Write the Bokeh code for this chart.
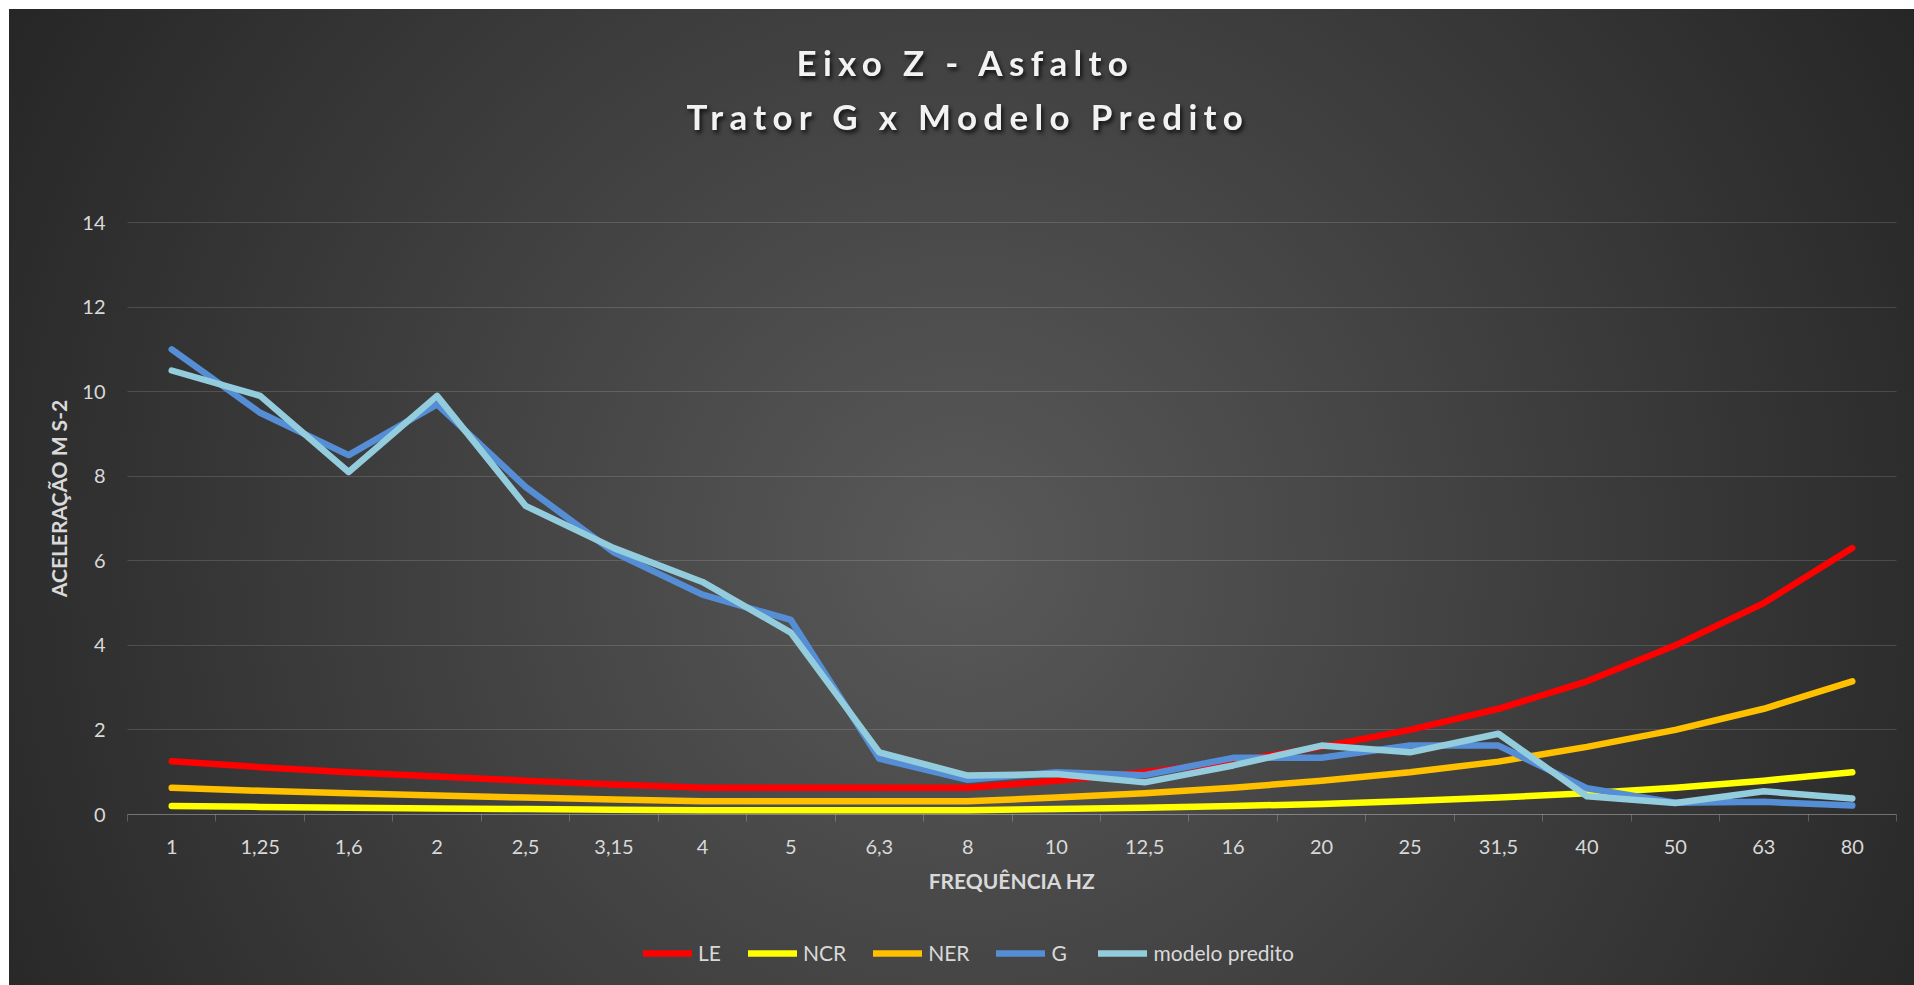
import math

from bokeh.core.validation import silence
from bokeh.core.validation.warnings import MISSING_RENDERERS
from bokeh.embed import file_html
from bokeh.layouts import column
from bokeh.models import FixedTicker, Label, Legend, LegendItem, Range1d
from bokeh.plotting import figure
from bokeh.resources import INLINE

silence(MISSING_RENDERERS, True)

# ---- data -----------------------------------------------------------------
title_lines = ["Eixo Z - Asfalto", "Trator G x Modelo Predito"]
x_title = "FREQUÊNCIA HZ"
y_title = "ACELERAÇÃO M S-2"

freq_labels = ["1", "1,25", "1,6", "2", "2,5", "3,15", "4", "5", "6,3", "8",
               "10", "12,5", "16", "20", "25", "31,5", "40", "50", "63", "80"]

le = [1.26, 1.12, 1.0, 0.9, 0.8, 0.71, 0.63, 0.63, 0.63, 0.63,
      0.8, 1.0, 1.25, 1.6, 2.0, 2.5, 3.15, 4.0, 5.0, 6.3]
ncr = [0.2, 0.18, 0.16, 0.14, 0.13, 0.11, 0.1, 0.1, 0.1, 0.1,
       0.13, 0.16, 0.2, 0.25, 0.32, 0.4, 0.5, 0.63, 0.8, 1.0]
ner = [0.63, 0.56, 0.5, 0.45, 0.4, 0.355, 0.315, 0.315, 0.315, 0.315,
       0.4, 0.5, 0.63, 0.8, 1.0, 1.25, 1.6, 2.0, 2.5, 3.15]
g = [11.0, 9.5, 8.5, 9.7, 7.75, 6.2, 5.2, 4.6, 1.32, 0.82,
     1.0, 0.93, 1.34, 1.34, 1.63, 1.63, 0.62, 0.28, 0.3, 0.21]
modelo = [10.5, 9.9, 8.1, 9.9, 7.3, 6.3, 5.5, 4.3, 1.47, 0.92,
          0.96, 0.76, 1.16, 1.63, 1.47, 1.91, 0.43, 0.27, 0.55, 0.38]

series_names = ["LE", "NCR", "NER", "G", "modelo predito"]
series_values = [le, ncr, ner, g, modelo]
series_colors = ["#FF0000", "#FFFF00", "#FFC000", "#558ED5", "#93CDDD"]

y_ticks = [0, 2, 4, 6, 8, 10, 12, 14]

# ---- styling / geometry -----------------------------------------------------
TEXT = "#D9D9D9"
FONT = "Lato"
W = 1905           # chart width (page x 9 .. 1914)
TITLE_H = 140      # title strip height
MAIN_H = 836       # main canvas height
# plot area inside the main canvas, in pixels from its top-left corner
AREA_L, AREA_R = 118, 1887
AREA_T, AREA_B = 73, 665

n = len(freq_labels)
xs = list(range(n))

# view ranges chosen so the category band and the 0..14 band fill the plot area,
# leaving the rest of the canvas for labels, titles and legend
px_x = (AREA_R - AREA_L) / n
px_y = (AREA_B - AREA_T) / (y_ticks[-1] - y_ticks[0])
x_view = Range1d(-0.5 - AREA_L / px_x, n - 0.5 + (W - AREA_R) / px_x)
y_view = Range1d(y_ticks[0] - (MAIN_H - AREA_B) / px_y, y_ticks[-1] + AREA_T / px_y)

# ---- title strip --------------------------------------------------------------
t = figure(width=W, height=TITLE_H, x_range=Range1d(0, W), y_range=Range1d(0, TITLE_H),
           x_axis_type=None, y_axis_type=None, title=None, min_border=0,
           output_backend="svg", toolbar_location=None)
t.outline_line_color = None
t.border_fill_color = None
t.background_fill_color = None
t.styles = {"letter-spacing": "6.3px",
            "filter": "drop-shadow(2px 3px 2px rgba(0,0,0,0.75))"}
for line, xpos, ypos in zip(title_lines, [787, 677], [88, 34]):
    t.add_layout(Label(x=xpos, y=ypos, text=line, text_align="left",
                       text_baseline="alphabetic", text_font=FONT,
                       text_font_style="bold", text_font_size="35px",
                       text_color="#F2F2F2"))

# ---- main chart ---------------------------------------------------------------
p = figure(width=W, height=MAIN_H, title=None, x_range=x_view, y_range=y_view,
           min_border=0, output_backend="svg", toolbar_location=None)
p.outline_line_color = None
p.border_fill_color = None
p.background_fill_color = None

xa = p.xaxis[0]
xa.fixed_location = y_ticks[0]
xa.bounds = (-0.5, n - 0.5)
xa.ticker = FixedTicker(ticks=xs, minor_ticks=[i - 0.5 for i in range(n + 1)])
xa.major_label_overrides = {i: lab for i, lab in enumerate(freq_labels)}
xa.major_tick_out = 0
xa.major_tick_in = 0
xa.minor_tick_out = 7
xa.minor_tick_in = 0
xa.minor_tick_line_color = "#FFFFFF"
xa.minor_tick_line_alpha = 0.22
xa.axis_line_color = "#FFFFFF"
xa.axis_line_alpha = 0.22
xa.major_label_standoff = 18
xa.major_label_text_font = FONT
xa.major_label_text_font_size = "20px"
xa.major_label_text_color = TEXT
xa.axis_label = x_title
xa.axis_label_standoff = 11
xa.axis_label_text_font = FONT
xa.axis_label_text_font_style = "bold"
xa.axis_label_text_font_size = "21px"
xa.axis_label_text_color = TEXT

ya = p.yaxis[0]
ya.fixed_location = -0.5
ya.bounds = (y_ticks[0], y_ticks[-1])
ya.ticker = FixedTicker(ticks=y_ticks)
ya.axis_line_color = None
ya.major_tick_line_color = None
ya.minor_tick_line_color = None
ya.major_label_standoff = 16
ya.major_label_text_font = FONT
ya.major_label_text_font_size = "20px"
ya.major_label_text_color = TEXT

p.xgrid.visible = False
p.ygrid.cross_bounds = (-0.5, n - 0.5)
p.ygrid.grid_line_color = "#FFFFFF"
p.ygrid.grid_line_alpha = 0.14
p.ygrid.grid_line_width = 1

# vertical axis title
p.add_layout(Label(x=49, y=487, x_units="screen", y_units="screen", text=y_title,
                   angle=math.pi / 2, text_align="center", text_baseline="middle",
                   text_font=FONT, text_font_style="bold", text_font_size="21px",
                   text_color=TEXT))

items = []
for name, vals, col in zip(series_names, series_values, series_colors):
    r = p.line(x=xs, y=vals, line_color=col, line_width=6.5,
               line_cap="round", line_join="round")
    items.append(LegendItem(label=name, renderers=[r]))

legend = Legend(items=items, orientation="horizontal", location=(634, 20),
                glyph_width=49, glyph_height=20, label_standoff=6, spacing=27,
                padding=0, margin=0, border_line_color=None,
                background_fill_alpha=0, label_text_font=FONT,
                label_text_font_size="21px", label_text_color=TEXT)
p.add_layout(legend)

layout = column(t, p, margin=(9, 0, 0, 9),
                styles={"background": "radial-gradient(circle farthest-corner at 50% 56%, "
                                      "#595959 0%, #262626 100%)"})

open("out.html", "w").write(file_html(layout, INLINE))
